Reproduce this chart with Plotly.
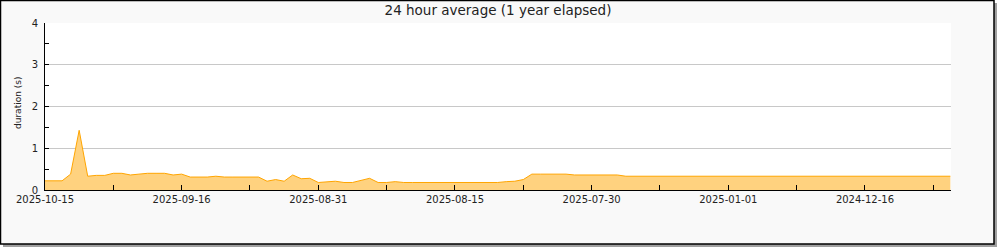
import plotly.graph_objects as go

# ---- data ----
sample_index = list(range(107))
duration_s = [
    0.22, 0.22, 0.22, 0.38, 1.43, 0.33, 0.35, 0.35, 0.40, 0.40,
    0.36, 0.38, 0.40, 0.40, 0.40, 0.36, 0.38, 0.31, 0.31, 0.31,
    0.33, 0.31, 0.31, 0.31, 0.31, 0.31, 0.21, 0.25, 0.21, 0.36,
    0.27, 0.28, 0.18, 0.19, 0.21, 0.18, 0.18, 0.23, 0.28, 0.18,
    0.18, 0.20, 0.18, 0.18, 0.18, 0.18, 0.18, 0.18, 0.18, 0.18,
    0.18, 0.18, 0.18, 0.18, 0.20, 0.21, 0.25, 0.38, 0.38, 0.38,
    0.38, 0.38, 0.36, 0.36, 0.36, 0.36, 0.36, 0.36, 0.33, 0.33,
    0.33, 0.33, 0.33, 0.33, 0.33, 0.33, 0.33, 0.33, 0.33, 0.33,
    0.33, 0.33, 0.33, 0.33, 0.33, 0.33, 0.33, 0.33, 0.33, 0.33,
    0.33, 0.33, 0.33, 0.33, 0.33, 0.33, 0.33, 0.33, 0.33, 0.33,
    0.33, 0.33, 0.33, 0.33, 0.33, 0.33, 0.33,
]
x_tick_positions = [0, 8, 16, 24, 32, 40, 48, 56, 64, 72, 80, 88, 96, 104]
x_tick_labels = ["2025-10-15", "", "2025-09-16", "", "2025-08-31", "",
                 "2025-08-15", "", "2025-07-30", "", "2025-01-01", "",
                 "2024-12-16", ""]
y_tick_values = [0, 1, 2, 3, 4]
y_tick_labels = ["0", "1", "2", "3", "4"]
y_title = "duration (s)"
chart_title = "24 hour average (1 year elapsed)"

# ---- layout geometry (pixels) ----
W, H = 1000, 250
L, R, T, B = 45, 49, 23, 60
PW, PH = W - L - R, H - T - B


def px_x(p):
    return (p - L) / PW


def px_y(p):
    return (H - B - p) / PH


FONT = "DejaVu Sans"
TEXT = "#222222"

fig = go.Figure()
fig.add_trace(go.Scatter(
    x=sample_index, y=duration_s, mode="lines",
    line=dict(color="#ffa500", width=1),
    fill="tozeroy", fillcolor="#ffd27f",
    hoverinfo="skip", showlegend=False,
))

shapes = [
    # shadow
    dict(type="rect", xref="paper", yref="paper", layer="below",
         x0=px_x(3), x1=px_x(997), y0=px_y(3), y1=px_y(247),
         fillcolor="#a0a0a0", line=dict(width=0)),
    # outer box
    dict(type="rect", xref="paper", yref="paper", layer="below",
         x0=px_x(0.5), x1=px_x(994), y0=px_y(0.5), y1=px_y(244),
         fillcolor="#f9f9f9", line=dict(color="black", width=1.5)),
    # plot area background
    dict(type="rect", xref="paper", yref="paper", layer="below",
         x0=0, x1=1, y0=0, y1=1,
         fillcolor="white", line=dict(width=0)),
]

annotations = [
    dict(text=y_title, xref="paper", yref="paper",
         x=px_x(17.5), y=px_y(103.5), xanchor="center", yanchor="middle",
         textangle=-90, showarrow=False,
         font=dict(family=FONT, size=9, color=TEXT)),
]

fig.update_layout(
    width=W, height=H,
    margin=dict(l=L, r=R, t=T, b=B, pad=0),
    paper_bgcolor="white", plot_bgcolor="rgba(0,0,0,0)",
    font=dict(family=FONT, size=10, color=TEXT),
    title=dict(text=chart_title,
               x=0.5, xref="paper", xanchor="center",
               y=1 - 10 / H, yref="container", yanchor="middle",
               font=dict(family=FONT, size=13.5, color=TEXT)),
    shapes=shapes,
    annotations=annotations,
    xaxis=dict(
        range=[0, PW / (68.33 / 8)],
        tickmode="array", tickvals=x_tick_positions, ticktext=x_tick_labels,
        ticks="inside", ticklen=5, tickcolor="black", tickwidth=1,
        showgrid=False, zeroline=False,
        showline=True, linecolor="black", linewidth=1,
        tickfont=dict(family=FONT, size=10, color=TEXT),
        fixedrange=True,
    ),
    yaxis=dict(
        range=[0, 4],
        tickmode="array", tickvals=y_tick_values, ticktext=y_tick_labels,
        ticks="inside", ticklen=4, tickcolor="black",
        ticklabelstandoff=4,
        showgrid=True, gridcolor="#c8c8c8", gridwidth=1,
        zeroline=False,
        showline=True, linecolor="black", linewidth=1,
        minor=dict(ticks="inside", ticklen=4, dtick=0.5, tickcolor="black",
                   showgrid=False),
        tickfont=dict(family=FONT, size=10, color=TEXT),
        fixedrange=True,
    ),
)

fig.write_html("out.html")
